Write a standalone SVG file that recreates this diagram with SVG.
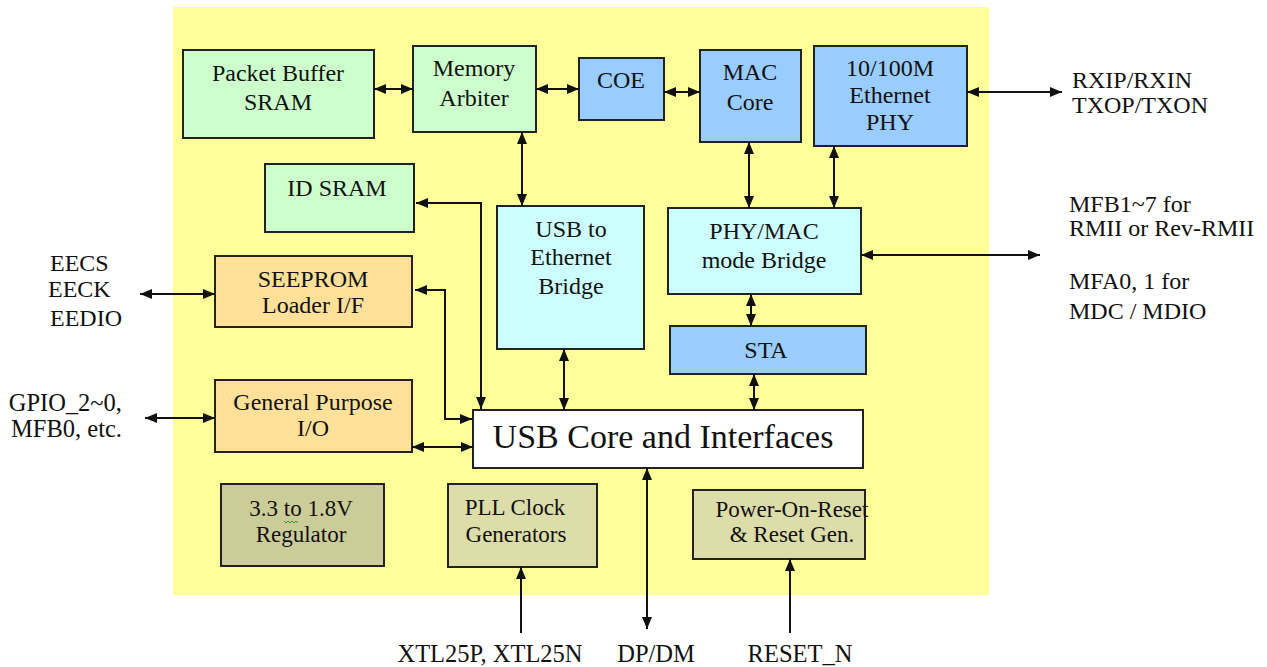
<svg xmlns="http://www.w3.org/2000/svg" width="1267" height="667" viewBox="0 0 1267 667">
<style>
.box{stroke:#222;stroke-width:2}
.g{fill:#CCFFCC}
.b{fill:#99CCFF}
.c{fill:#CCFFFF}
.o{fill:#FFE099}
.w{fill:#FFFFFF}
.d{fill:#CCCC99}
.l{fill:#DDDDAA}
text{font-family:'Liberation Serif','DejaVu Serif','Times New Roman',serif;font-size:24px;fill:#111}
.m{text-anchor:middle}
.s{font-size:23px}
.e{font-size:24.5px}
.big{font-size:34px}
.cn line,.cn path{stroke:#111;stroke-width:2;fill:none}
</style>
<defs>
<marker id="ah" viewBox="0 0 12 10" refX="12" refY="5" markerWidth="12" markerHeight="10" markerUnits="userSpaceOnUse" orient="auto-start-reverse">
<path d="M0,0 L12,5 L0,10 z" fill="#111"/>
</marker>
</defs>
<rect x="0" y="0" width="1267" height="667" fill="#FFFFFF"/>
<rect x="173" y="7" width="816" height="588" fill="#FFFF99"/>

<g id="packet-buffer"><rect class="box g" x="183" y="50" width="191" height="88"/><text class="m" x="278" y="81">Packet Buffer</text><text class="m" x="278" y="110">SRAM</text></g>
<g id="memory-arbiter"><rect class="box g" x="413" y="46" width="123" height="86"/><text class="m" x="474" y="76">Memory</text><text class="m" x="474" y="106">Arbiter</text></g>
<g id="coe"><rect class="box b" x="579" y="58" width="85" height="62"/><text class="m" x="621" y="88">COE</text></g>
<g id="mac-core"><rect class="box b" x="700" y="50" width="101" height="92"/><text class="m" x="750" y="80">MAC</text><text class="m" x="750" y="110">Core</text></g>
<g id="phy"><rect class="box b" x="814" y="46" width="153" height="100"/><text class="m" x="890" y="76">10/100M</text><text class="m" x="890" y="103">Ethernet</text><text class="m" x="890" y="130">PHY</text></g>
<g id="id-sram"><rect class="box g" x="265" y="164" width="149" height="68"/><text class="m" x="337" y="196">ID SRAM</text></g>
<g id="seeprom"><rect class="box o" x="215" y="256" width="197" height="71"/><text class="m" x="313" y="287">SEEPROM</text><text class="m" x="313" y="313">Loader I/F</text></g>
<g id="usb-eth-bridge"><rect class="box c" x="497" y="206" width="147" height="143"/><text class="m" x="571" y="237">USB to</text><text class="m" x="571" y="265">Ethernet</text><text class="m" x="571" y="294">Bridge</text></g>
<g id="phy-mac-bridge"><rect class="box c" x="668" y="208" width="193" height="86"/><text class="m" x="764" y="239">PHY/MAC</text><text class="m" x="764" y="268">mode Bridge</text></g>
<g id="sta"><rect class="box b" x="670" y="326" width="196" height="48"/><text class="m" x="766" y="358">STA</text></g>
<g id="gpio"><rect class="box o" x="215" y="380" width="197" height="72"/><text class="m" x="313" y="410">General Purpose</text><text class="m" x="313" y="436">I/O</text></g>
<g id="usb-core"><rect class="box w" x="473" y="410" width="390" height="58"/><text class="m big" x="663" y="448">USB Core and Interfaces</text></g>
<g id="regulator"><rect class="box d" x="221" y="484" width="163" height="82"/><text class="m s" x="301" y="516">3.3 to 1.8V</text><text class="m s" x="301" y="542">Regulator</text><path d="M284,521 l2,2 l2,-2 l2,2 l2,-2 l2,2 l2,-2 l2,2" stroke="#2a9a2a" stroke-width="1" fill="none"/></g>
<g id="pll"><rect class="box l" x="448" y="484" width="149" height="83"/><text class="m s" x="515" y="515">PLL Clock</text><text class="m s" x="516" y="542">Generators</text></g>
<g id="por"><rect class="box l" x="693" y="490" width="172" height="69"/><text class="m s" x="792" y="517">Power-On-Reset</text><text class="m s" x="792" y="542">&amp; Reset Gen.</text></g>

<g id="labels">
<text x="1072" y="88">RXIP/RXIN</text><text x="1072" y="113">TXOP/TXON</text>
<text x="1069" y="212">MFB1~7 for</text><text x="1069" y="236">RMII or Rev-RMII</text>
<text x="1069" y="289">MFA0, 1 for</text><text x="1069" y="319">MDC / MDIO</text>
<text x="50" y="271">EECS</text><text x="48" y="297">EECK</text><text x="50" y="326">EEDIO</text>
<text class="e" x="122" y="411" text-anchor="end">GPIO_2~0,</text><text class="e" x="122" y="437" text-anchor="end">MFB0, etc.</text>
<text class="m e" x="490" y="662">XTL25P, XTL25N</text>
<text class="m e" x="656" y="662">DP/DM</text>
<text class="m e" x="800" y="662">RESET_N</text>
</g>

<g id="connectors" class="cn">
<line x1="374" y1="89" x2="413" y2="89" marker-start="url(#ah)" marker-end="url(#ah)"/>
<line x1="536" y1="89" x2="579" y2="89" marker-start="url(#ah)" marker-end="url(#ah)"/>
<line x1="664" y1="92" x2="700" y2="92" marker-start="url(#ah)" marker-end="url(#ah)"/>
<line x1="967" y1="92" x2="1062" y2="92" marker-start="url(#ah)" marker-end="url(#ah)"/>
<line x1="522" y1="132" x2="522" y2="206" marker-start="url(#ah)" marker-end="url(#ah)"/>
<line x1="749" y1="142" x2="749" y2="208" marker-start="url(#ah)" marker-end="url(#ah)"/>
<line x1="834" y1="146" x2="834" y2="208" marker-start="url(#ah)" marker-end="url(#ah)"/>
<line x1="861" y1="255" x2="1040" y2="255" marker-start="url(#ah)" marker-end="url(#ah)"/>
<line x1="751" y1="294" x2="751" y2="326" marker-start="url(#ah)" marker-end="url(#ah)"/>
<line x1="754" y1="374" x2="754" y2="410" marker-start="url(#ah)" marker-end="url(#ah)"/>
<line x1="564" y1="349" x2="564" y2="410" marker-start="url(#ah)" marker-end="url(#ah)"/>
<path d="M481,409 V203 H416" marker-start="url(#ah)" marker-end="url(#ah)"/>
<path d="M472,419 H445 V290 H415" marker-start="url(#ah)" marker-end="url(#ah)"/>
<line x1="412" y1="447" x2="473" y2="447" marker-start="url(#ah)" marker-end="url(#ah)"/>
<line x1="140" y1="294" x2="215" y2="294" marker-start="url(#ah)" marker-end="url(#ah)"/>
<line x1="145" y1="418" x2="215" y2="418" marker-start="url(#ah)" marker-end="url(#ah)"/>
<line x1="647" y1="468" x2="647" y2="629" marker-start="url(#ah)" marker-end="url(#ah)"/>
<line x1="521" y1="633" x2="521" y2="567" marker-end="url(#ah)"/>
<line x1="790" y1="633" x2="790" y2="559" marker-end="url(#ah)"/>
</g>
</svg>
